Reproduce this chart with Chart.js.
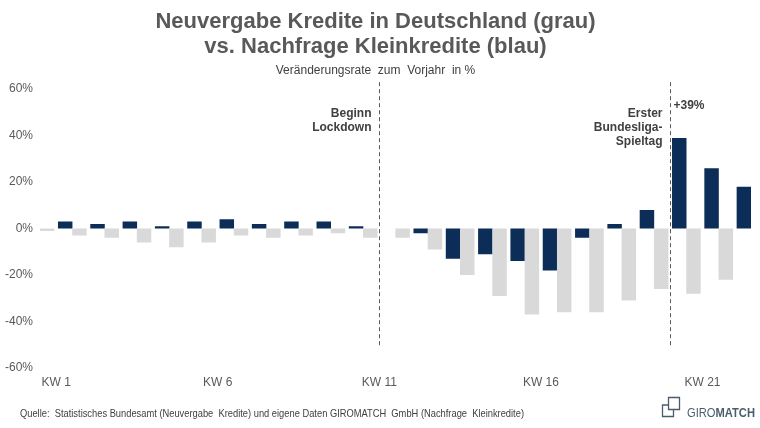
<!DOCTYPE html>
<html><head><meta charset="utf-8">
<script src="https://cdn.jsdelivr.net/npm/chart.js@4.4.1/dist/chart.umd.min.js"></script>
<style>
html,body{margin:0;padding:0;background:#fff;}
#wrap{position:relative;width:760px;height:428px;overflow:hidden;background:#fff;}
#c{position:absolute;left:0;top:0;}
#src{position:absolute;left:20px;top:407px;font:11px "Liberation Sans",Arial,sans-serif;color:#404040;white-space:pre;transform-origin:left top;}
#logo{position:absolute;left:660px;top:395px;}
</style></head><body>
<div id="wrap">
<canvas id="c" width="760" height="428"></canvas>
<div id="src">Quelle:  Statistisches Bundesamt (Neuvergabe  Kredite) und eigene Daten GIROMATCH  GmbH (Nachfrage  Kleinkredite)</div>
<div id="logo"><svg width="100" height="28" viewBox="0 0 100 28">
<path d="M8.5 10 H2.5 V21.5 H13.5 V14.5" fill="none" stroke="#4b5c6d" stroke-width="1.3"/>
<path d="M8.5 14.5 V2.5 H19.5 V14.5 Z" fill="none" stroke="#4b5c6d" stroke-width="1.3"/>
<text x="27" y="22" font-family="Liberation Sans, Arial" font-size="13" fill="#4b5c6d" textLength="68" lengthAdjust="spacingAndGlyphs">GIRO<tspan font-weight="bold">MATCH</tspan></text>
</svg></div>
</div>
<script>
// ---- data ----
const weeks = ['KW 1','KW 2','KW 3','KW 4','KW 5','KW 6','KW 7','KW 8','KW 9','KW 10','KW 11',
               'KW 12','KW 13','KW 14','KW 15','KW 16','KW 17','KW 18','KW 19','KW 20','KW 21','KW 22'];
const neuvergabeKredite = [-1,-3,-4,-6,-8,-6,-3,-4,-3,-2,-4,-4,-9,-20,-29,-37,-36,-36,-31,-26,-28,-22];
const nachfrageKleinkredite = [3,2,3,1,3,4,2,3,3,1,0,-2,-13,-11,-14,-18,-4,2,8,39,26,18];
const shownWeekLabels = ['KW 1','KW 6','KW 11','KW 16','KW 21'];
const yTickValues = [-60,-40,-20,0,20,40,60];
const markers = [
  {at:'KW 11', lines:['Beginn','Lockdown']},
  {at:'KW 20', lines:['Erster','Bundesliga-','Spieltag'], note:true}
];

Chart.defaults.font.family = '"Liberation Sans", Arial, sans-serif';

const markerPlugin = {
  id:'markers',
  afterDatasetsDraw(chart){
    const {ctx, scales:{x, y}} = chart;
    ctx.save();
    markers.forEach(m => {
      const idx = weeks.indexOf(m.at);
      const px = Math.round(x.getPixelForValue(idx)) + 0.5;
      ctx.strokeStyle = '#595959';
      ctx.lineWidth = 1;
      ctx.setLineDash([4,3]);
      ctx.beginPath();
      ctx.moveTo(px, y.getPixelForValue(63));
      ctx.lineTo(px, y.getPixelForValue(-51));
      ctx.stroke();
      ctx.setLineDash([]);
      ctx.font = 'bold 12px "Liberation Sans", Arial, sans-serif';
      ctx.fillStyle = '#404040';
      ctx.textAlign = 'right';
      ctx.textBaseline = 'middle';
      const y0 = y.getPixelForValue(49.5);
      m.lines.forEach((t,i) => ctx.fillText(t, px - 8, y0 + i*14));
      if (m.note) {
        ctx.textAlign = 'left';
        ctx.fillText('+' + nachfrageKleinkredite[idx] + '%', px + 3, y.getPixelForValue(53));
      }
    });
    ctx.restore();
  }
};

new Chart(document.getElementById('c'), {
  type:'bar',
  data:{
    labels: weeks,
    datasets:[
      {label:'Neuvergabe Kredite', data: neuvergabeKredite, backgroundColor:'#d9d9d9', borderWidth:0,
       categoryPercentage:1.12, barPercentage:0.8},
      {label:'Nachfrage Kleinkredite', data: nachfrageKleinkredite, backgroundColor:'#0c2d57', borderWidth:0,
       categoryPercentage:1.12, barPercentage:0.8}
    ]
  },
  options:{
    responsive:false,
    animation:false,
    layout:{padding:{left:0,right:9,top:0,bottom:40}},
    plugins:{
      legend:{display:false},
      tooltip:{enabled:false},
      title:{display:true, text:['Neuvergabe Kredite in Deutschland (grau)','vs. Nachfrage Kleinkredite (blau)'],
             color:'#595959', font:{size:22, weight:'bold', lineHeight:1.14}, padding:{top:9,bottom:0}},
      subtitle:{display:true, text:'Veränderungsrate  zum  Vorjahr  in %', color:'#404040',
             font:{size:12, lineHeight:1.2}, padding:{top:4.8,bottom:10.8}}
    },
    scales:{
      x:{
        grid:{display:false, drawTicks:false}, border:{display:false},
        ticks:{autoSkip:false, maxRotation:0, padding:7, color:'#595959', font:{size:12},
          callback:(v,i) => shownWeekLabels.includes(weeks[i]) ? weeks[i] : ''},
        afterFit(s){ s.height = 20; }
      },
      y:{
        min: yTickValues[0], max: yTickValues[yTickValues.length-1],
        grid:{display:false, drawTicks:false}, border:{display:false},
        afterBuildTicks(s){ s.ticks = yTickValues.map(v => ({value:v})); },
        ticks:{padding:7, color:'#595959', font:{size:12}, callback:v => v + '%'},
        afterFit(s){ s.width = 40; }
      }
    }
  },
  plugins:[markerPlugin]
});

// fit footer text width to the reference line length
const src = document.getElementById('src');
const w = src.getBoundingClientRect().width;
src.style.transform = 'scaleX(' + (504 / w) + ')';
</script>
</body></html>
